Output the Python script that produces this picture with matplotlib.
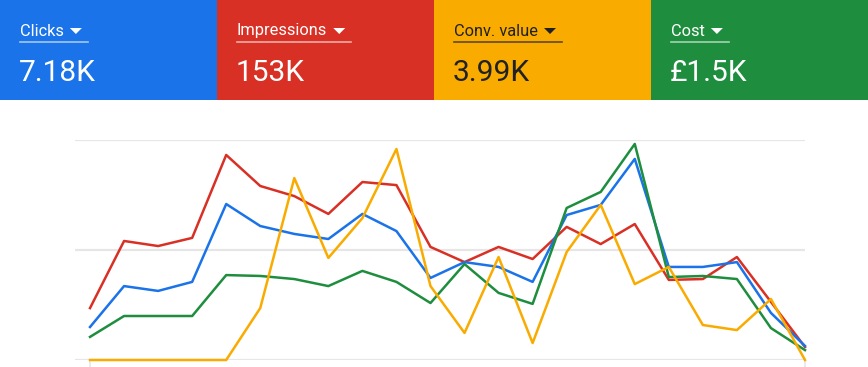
import matplotlib.pyplot as plt
from matplotlib.patches import Rectangle, Polygon

plt.rcParams['font.family'] = ['Roboto', 'DejaVu Sans']

# Summary tiles
tile_labels = ['Clicks', 'Impressions', 'Conv. value', 'Cost']
tile_values = ['7.18K', '153K', '3.99K', '£1.5K']
tile_colors = ['#1a73e8', '#d93025', '#f9ab00', '#1e8e3e']
text_colors = ['white', 'white', '#202124', 'white']

# Series values (normalised, 0-100 scale)
clicks = [15.0, 33.6, 31.4, 35.5, 70.9, 60.9, 57.3, 55.0, 66.4, 58.6, 37.3,
          44.5, 42.3, 35.5, 65.9, 70.5, 91.4, 42.3, 42.3, 44.5, 21.4, 6.4]
impressions = [23.6, 54.1, 51.8, 55.5, 93.2, 79.1, 74.5, 66.4, 80.9, 79.5, 51.4,
               44.5, 51.4, 45.9, 60.5, 52.7, 61.8, 36.4, 36.8, 46.8, 26.4, 5.9]
conv_value = [0, 0, 0, 0, 0, 23.6, 82.7, 46.4, 64.5, 95.9, 33.6,
              12.3, 46.8, 7.7, 49.1, 70.5, 34.5, 42.3, 15.9, 13.6, 27.7, 0]
cost = [10.5, 20.0, 20.0, 20.0, 38.6, 38.2, 36.8, 33.6, 40.5, 35.5, 25.9,
        43.6, 30.5, 25.5, 69.1, 76.4, 98.2, 37.7, 38.2, 36.8, 14.5, 4.5]

W, H = 868, 367
fig = plt.figure(figsize=(W / 100, H / 100), dpi=100)

# overlay in pixel coordinates for the tiles
bg = fig.add_axes([0, 0, 1, 1])
bg.set_xlim(0, W)
bg.set_ylim(H, 0)
bg.axis('off')

tile_w = W / 4
for i in range(4):
    x0 = i * tile_w
    bg.add_patch(Rectangle((x0, 0), tile_w, 100, color=tile_colors[i], lw=0))
    tx = x0 + 20
    t = bg.text(tx, 31, tile_labels[i], color=text_colors[i], fontsize=11.8,
                va='center', ha='left')
    fig.canvas.draw()
    tw = t.get_window_extent().width
    # dropdown triangle
    ax0 = tx + tw + 6
    bg.add_patch(Polygon([[ax0, 28], [ax0 + 12, 28], [ax0 + 6, 34]],
                         closed=True, color=text_colors[i], lw=0))
    # underline
    if text_colors[i] == 'white':
        bg.plot([tx, ax0 + 18], [42, 42], color='white', lw=1.2, alpha=0.6)
    else:
        bg.plot([tx, ax0 + 18], [42, 42], color='#202124', lw=1.2, alpha=0.7)
    bg.text(tx - 1, 73, tile_values[i], color=text_colors[i], fontsize=21.5,
            va='center', ha='left')

# line chart
ax = fig.add_axes([75 / W, (H - 360) / H, 730 / W, 220 / H])
x = list(range(len(clicks)))
ax.set_xlim(-15 / 34, 21)
ax.set_ylim(0, 100)
for yv in [0, 50, 100]:
    ax.axhline(yv, color='#e6e6e6', lw=1.6, zorder=0)

ax.plot(x, impressions, color='#d93025', lw=1.8, clip_on=False)
ax.plot(x, clicks, color='#1a73e8', lw=1.8, clip_on=False)
ax.plot(x, cost, color='#1e8e3e', lw=1.8, clip_on=False)
ax.plot(x, conv_value, color='#f9ab00', lw=1.8, clip_on=False)

for s in ax.spines.values():
    s.set_visible(False)
ax.set_yticks([])
ax.set_xticks([0, 21])
ax.set_xticklabels([])
ax.tick_params(axis='x', length=5, width=1.2, color='#e6e6e6')

fig.savefig('out.png', dpi=100)
